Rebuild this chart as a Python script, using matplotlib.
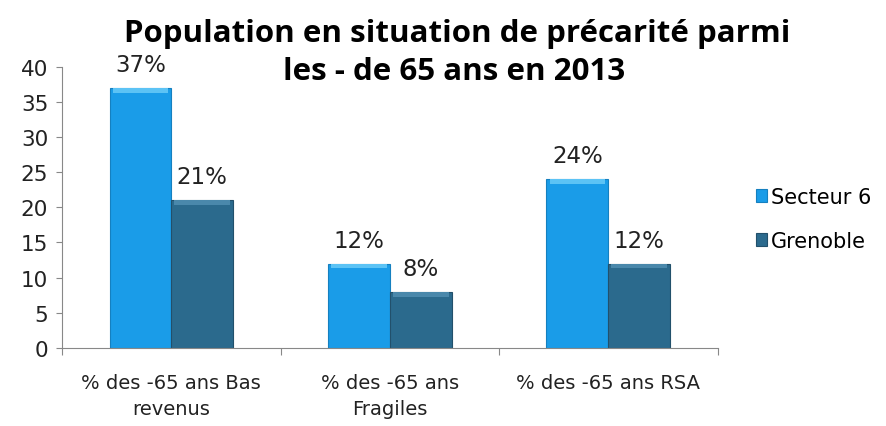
import numpy as np
import matplotlib.pyplot as plt

# données
categories = ['% des -65 ans Bas\nrevenus', '% des -65 ans\nFragiles', '% des -65 ans RSA']
secteur6 = [37, 12, 24]
grenoble = [21, 8, 12]
series_names = ['Secteur 6', 'Grenoble']
title_lines = ['Population en situation de précarité parmi', 'les - de 65 ans en 2013']

c_blue = '#1a9ce8'
c_dark = '#2b6a8d'

plt.rcParams['font.family'] = ['DejaVu Sans']

fig = plt.figure(figsize=(8.87, 4.27), dpi=100)
ax = fig.add_axes([0.070, 0.183, 0.739, 0.658])

x = np.arange(len(categories))
w = 0.283

b1 = ax.bar(x - w / 2, secteur6, w, color=c_blue, edgecolor='#1580c0', linewidth=0.8, label=series_names[0])
b2 = ax.bar(x + w / 2, grenoble, w, color=c_dark, edgecolor='#22506b', linewidth=0.8, label=series_names[1])

# léger effet de biseau en haut des barres
ax.bar(x - w / 2, [0.7] * 3, w * 0.9, bottom=np.array(secteur6) - 0.7, color='#5cc3f5', linewidth=0)
ax.bar(x + w / 2, [0.7] * 3, w * 0.9, bottom=np.array(grenoble) - 0.7, color='#4a88ab', linewidth=0)

for xi, v in zip(x - w / 2, secteur6):
    ax.text(xi, v + 2.4, f'{v}%', ha='center', va='baseline', fontsize=16.5, color='#222222')
for xi, v in zip(x + w / 2, grenoble):
    ax.text(xi, v + 2.4, f'{v}%', ha='center', va='baseline', fontsize=16.5, color='#222222')

ax.set_xlim(-0.5, 2.5)
ax.set_ylim(0, 40)
ax.set_yticks(range(0, 41, 5))
ax.tick_params(axis='y', labelsize=15.5, length=4, color='#888888', pad=6, labelcolor='#222222')

ax.set_xticks([-0.5, 0.5, 1.5, 2.5])
ax.set_xticklabels([])
ax.tick_params(axis='x', length=5, color='#888888')
for xi, lab in zip(x, categories):
    ax.text(xi, -3.6, lab, ha='center', va='top', fontsize=14, color='#222222', linespacing=1.45)

for s in ['top', 'right']:
    ax.spines[s].set_visible(False)
for s in ['left', 'bottom']:
    ax.spines[s].set_color('#888888')

fig.text(0.515, 0.9016, title_lines[0], ha='center', va='baseline',
         fontsize=22.5, fontweight='bold', family='Open Sans')
fig.text(0.512, 0.8126, title_lines[1], ha='center', va='baseline',
         fontsize=22.5, fontweight='bold', family='Open Sans')

leg = ax.legend(handles=[b1, b2], loc='center left', bbox_to_anchor=(1.03, 0.46), frameon=False,
                fontsize=15, handlelength=0.55, handleheight=0.55, handletextpad=0.15, labelspacing=1.15)

fig.savefig('out.png', dpi=100)
